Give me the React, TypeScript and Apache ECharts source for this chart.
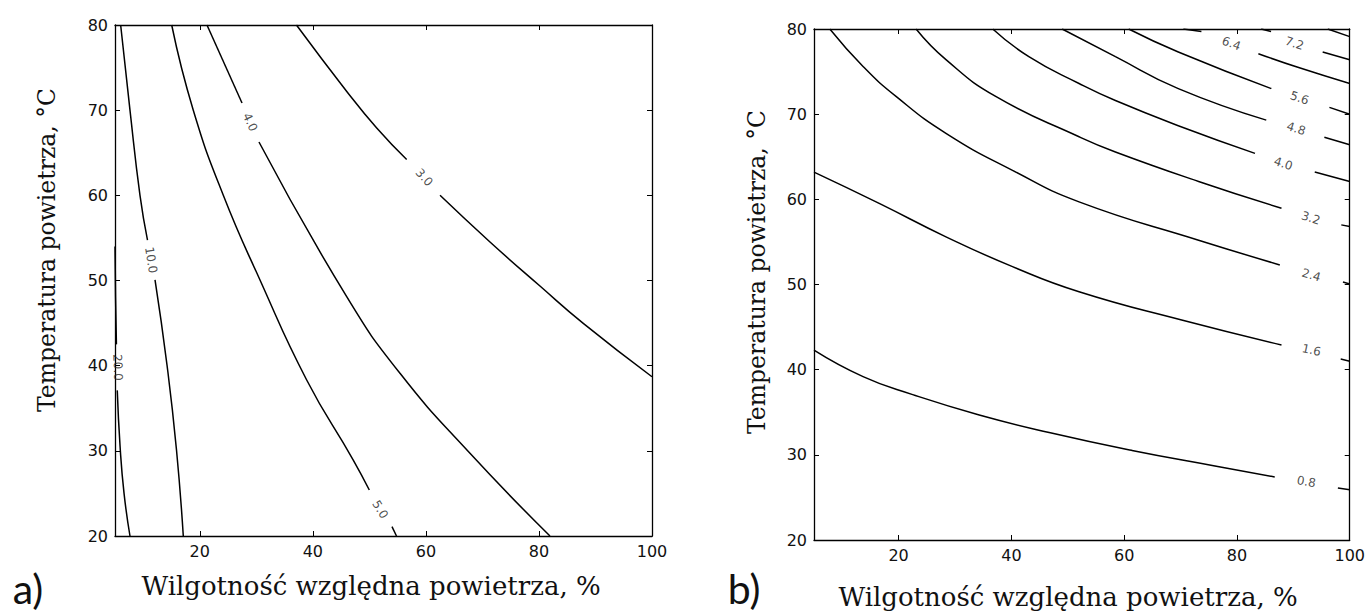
import React, { useEffect, useRef } from 'react';
import * as echarts from 'echarts';

// ---------- shared axis ticks ----------
const humidityTicks = [20, 40, 60, 80, 100];
const tempMin = 20;
const tempMax = 80;
const tempStep = 10;
const humidityMin = 5;
const humidityMax = 100;

// ---------- panel a) contour lines [humidity %, temperature °C] ----------
const a20_1 = [[5.0, 54], [5.1, 48], [5.25, 42.5]];
const a20_2 = [[5.4, 37.1], [5.9, 30.5], [6.6, 25], [7.65, 20]];
const a20_at = [5.5, 39.8];

const a10_1 = [[6.0, 80], [7.65, 70], [9.42, 60], [10.75, 54.75]];
const a10_2 = [[12.08, 50.06], [14.2, 40.08], [15.88, 30.1], [17.08, 20]];
const a10_at = [11.37, 52.4];

const a5_1 = [[15.03, 80], [18.85, 70], [24.16, 60], [30.65, 50.06], [38.91, 38.32], [47.15, 28.92], [49.99, 25.4]];
const a5_2 = [[54.0, 21.1], [54.8, 20]];
const a5_at = [51.9, 23.1];

const a4_1 = [[21.27, 80], [27.47, 70.84]];
const a4_2 = [[30.47, 66.26], [45.99, 48.1], [55.42, 39.1], [67.8, 29.71], [81.95, 20]];
const a4_at = [28.9, 68.6];

const a3_1 = [[37.1, 80], [46.0, 72.2], [51.3, 67.9], [56.6, 64.2]];
const a3_2 = [[62.5, 60.0], [71.34, 54.52], [80.18, 49.35], [87.84, 44.97], [100, 38.7]];
const a3_at = [59.7, 62.1];

// ---------- panel b) contour lines ----------
const b08_1 = [[5.0, 42.3], [13.7, 39.19], [22.5, 37.07], [34.3, 34.68], [46.7, 32.62], [61.4, 30.51], [76.1, 28.69], [86.7, 27.4]];
const b08_2 = [[97.9, 26.1], [100, 25.9]];
const b08_at = [92.3, 26.85];

const b16_1 = [[5.0, 63.2], [16.65, 59.5], [28.4, 55.6], [40.2, 52.1], [52.0, 49.15], [70.2, 45.83], [87.9, 42.9]];
const b16_2 = [[98.4, 41.25], [100, 41.0]];
const b16_at = [93.2, 42.3];

const b24_1 = [[7.8, 80], [13.7, 75.6], [19.6, 72.05], [28.4, 67.75], [40.2, 63.4], [52.0, 59.7], [73.2, 55.2], [87.6, 52.3]];
const b24_2 = [[98.8, 50.3], [100, 50.06]];
const b24_at = [93.2, 51.1];

const b32_1 = [[23.1, 80], [28.4, 76.4], [37.3, 72.05], [52.0, 67.35], [58.45, 65.56], [73.2, 62.1], [87.9, 58.95]];
const b32_2 = [[98.5, 57.0], [100, 56.8]];
const b32_at = [93.1, 57.8];

const b40_1 = [[36.7, 80], [43.1, 76.75], [52.0, 73.6], [58.45, 71.6], [70.2, 68.5], [83.2, 65.4]];
const b40_2 = [[93.8, 63.2], [100, 62.1]];
const b40_at = [88.2, 64.2];

const b48_1 = [[49.0, 80], [58.45, 76.75], [69.6, 73.0], [85.2, 69.3]];
const b48_2 = [[95.5, 67.3], [100, 66.4]];
const b48_at = [90.5, 68.3];

const b56_1 = [[60.8, 80], [69.6, 77.3], [86.1, 73.0]];
const b56_2 = [[96.4, 70.8], [100, 70.0]];
const b56_at = [91.1, 71.9];

const b64_1 = [[70.5, 80], [73.7, 79.7]];
const b64_2 = [[83.8, 77.1], [90.8, 75.5], [100, 73.6]];
const b64_at = [79.0, 78.3];

const b72_1 = [[84.3, 80], [86.05, 79.7]];
const b72_2 = [[95.2, 77.3], [100, 76.4]];
const b72_at = [90.2, 78.3];

const b80_1 = [[96.1, 80], [100, 79.1]];

const contoursA = [
  { level: '20.0', parts: [a20_1, a20_2], at: a20_at, rot: -88 },
  { level: '10.0', parts: [a10_1, a10_2], at: a10_at, rot: -81 },
  { level: '5.0', parts: [a5_1, a5_2], at: a5_at, rot: -58 },
  { level: '4.0', parts: [a4_1, a4_2], at: a4_at, rot: -65 },
  { level: '3.0', parts: [a3_1, a3_2], at: a3_at, rot: -48 },
];

const contoursB = [
  { level: '0.8', parts: [b08_1, b08_2], at: b08_at, rot: -10 },
  { level: '1.6', parts: [b16_1, b16_2], at: b16_at, rot: -12 },
  { level: '2.4', parts: [b24_1, b24_2], at: b24_at, rot: -16 },
  { level: '3.2', parts: [b32_1, b32_2], at: b32_at, rot: -17 },
  { level: '4.0', parts: [b40_1, b40_2], at: b40_at, rot: -18 },
  { level: '4.8', parts: [b48_1, b48_2], at: b48_at, rot: -18 },
  { level: '5.6', parts: [b56_1, b56_2], at: b56_at, rot: -18 },
  { level: '6.4', parts: [b64_1, b64_2], at: b64_at, rot: -20 },
  { level: '7.2', parts: [b72_1, b72_2], at: b72_at, rot: -18 },
  { level: '8.0', parts: [b80_1], at: null, rot: 0 },
];

const xTitle = 'Wilgotność względna powietrza, %';
const yTitle = 'Temperatura powietrza, °C';

function xAxes(grid: number) {
  const common = {
    type: 'value',
    gridIndex: grid,
    min: humidityMin,
    max: humidityMax,
    splitLine: { show: false },
    axisLine: { show: true, onZero: false, lineStyle: { color: '#000', width: 1.3 } },
    axisTick: { show: true, inside: true, length: 5, customValues: humidityTicks, lineStyle: { color: '#000', width: 1 } },
  };
  return [
    {
      ...common,
      position: 'bottom',
      axisLabel: {
        show: true, customValues: humidityTicks, margin: 7,
        fontSize: 16, fontFamily: 'DejaVu Sans', color: '#111',
      },
    },
    { ...common, position: 'top', axisLabel: { show: false } },
  ];
}

function yAxes(grid: number) {
  const common = {
    type: 'value',
    gridIndex: grid,
    min: tempMin,
    max: tempMax,
    interval: tempStep,
    splitLine: { show: false },
    axisLine: { show: true, onZero: false, lineStyle: { color: '#000', width: 1.3 } },
    axisTick: { show: true, inside: true, length: 5, lineStyle: { color: '#000', width: 1 } },
  };
  return [
    {
      ...common,
      position: 'left',
      axisLabel: { show: true, margin: 7, fontSize: 16, fontFamily: 'DejaVu Sans', color: '#111' },
    },
    { ...common, position: 'right', axisLabel: { show: false } },
  ];
}

function contourSeries(list: any[], axisIndex: number, panel: string) {
  const out: any[] = [];
  list.forEach((c) => {
    c.parts.forEach((part: number[][], i: number) => {
      out.push({
        type: 'line',
        name: `${panel} ${c.level} (${i + 1})`,
        xAxisIndex: axisIndex,
        yAxisIndex: axisIndex,
        data: part,
        showSymbol: false,
        symbol: 'none',
        smooth: 0.5,
        silent: true,
        lineStyle: { color: '#000', width: 1.5 },
      });
    });
  });
  out.push({
    type: 'scatter',
    name: `${panel} labels`,
    xAxisIndex: axisIndex,
    yAxisIndex: axisIndex,
    symbolSize: 1,
    silent: true,
    itemStyle: { color: 'rgba(0,0,0,0)' },
    data: list
      .filter((c) => c.at)
      .map((c) => ({
        name: c.level,
        value: c.at,
        label: {
          show: true,
          position: 'inside',
          formatter: '{b}',
          rotate: c.rot,
          fontSize: 12,
          fontFamily: 'DejaVu Sans',
          color: '#222',
        },
      })),
  });
  return out;
}

export default function App() {
  const ref = useRef<HTMLDivElement>(null);
  useEffect(() => {
    if (!ref.current) return;
    const chart = echarts.init(ref.current, null, { renderer: 'svg' });
    const titleFont = 'DejaVu Serif';
    const option: any = {
      animation: false,
      backgroundColor: '#fff',
      grid: [
        { left: 115, top: 25, width: 537, height: 511 },
        { left: 814, top: 29, width: 538, height: 511 },
      ],
      xAxis: [...xAxes(0), ...xAxes(1)],
      yAxis: [...yAxes(0), ...yAxes(1)],
      series: [
        ...contourSeries(contoursA, 0, 'a'),
        ...contourSeries(contoursB, 2, 'b'),
      ],
      graphic: [
        { type: 'text', x: 371, y: 586, style: { text: xTitle, font: `26px "${titleFont}"`, fill: '#111', align: 'center', verticalAlign: 'middle' } },
        { type: 'text', x: 1068, y: 597, style: { text: xTitle, font: `26px "${titleFont}"`, fill: '#111', align: 'center', verticalAlign: 'middle' } },
        { type: 'text', x: 47, y: 250, rotation: Math.PI / 2, style: { text: yTitle, font: `23.5px "${titleFont}"`, fill: '#111', align: 'center', verticalAlign: 'middle' } },
        { type: 'text', x: 757, y: 272, rotation: Math.PI / 2, style: { text: yTitle, font: `23.5px "${titleFont}"`, fill: '#111', align: 'center', verticalAlign: 'middle' } },
        { type: 'text', x: 28, y: 588, style: { text: 'a)', font: '41px Lato', fill: '#111', align: 'center', verticalAlign: 'middle' } },
        { type: 'text', x: 744, y: 588, style: { text: 'b)', font: '41px Lato', fill: '#111', align: 'center', verticalAlign: 'middle' } },
      ],
    };
    chart.setOption(option);
    return () => chart.dispose();
  }, []);
  return (
    <div
      ref={ref}
      style={{ position: 'absolute', left: 0, top: 0, width: 1368, height: 615, background: '#fff' }}
    />
  );
}
